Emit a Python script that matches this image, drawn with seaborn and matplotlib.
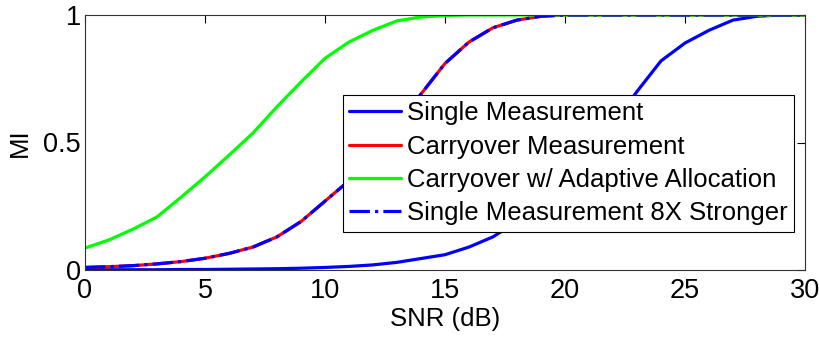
import numpy as np
import pandas as pd
import matplotlib
matplotlib.use("Agg")
import matplotlib.pyplot as plt
import seaborn as sns

snr = list(range(0, 31))
single = [0.001, 0.001, 0.001, 0.001, 0.002, 0.002, 0.003, 0.004, 0.005, 0.007,
          0.010, 0.014, 0.020, 0.030, 0.045, 0.060, 0.090, 0.130, 0.190, 0.270,
          0.360, 0.460, 0.570, 0.700, 0.820, 0.890, 0.940, 0.980, 0.995, 1.000, 1.000]
carry = [0.010, 0.013, 0.017, 0.024, 0.033, 0.046, 0.065, 0.090, 0.130, 0.190,
         0.270, 0.350, 0.460, 0.580, 0.690, 0.810, 0.894, 0.950, 0.980, 0.995,
         1.000, 1.000, 1.000, 1.000, 1.000, 1.000, 1.000, 1.000, 1.000, 1.000, 1.000]
adaptive = [0.086, 0.118, 0.160, 0.208, 0.285, 0.365, 0.450, 0.537, 0.640, 0.737,
            0.830, 0.894, 0.940, 0.977, 0.992, 0.998, 1.000, 1.000, 1.000, 1.000,
            1.000, 1.000, 1.000, 1.000, 1.000, 1.000, 1.000, 1.000, 1.000, 1.000, 1.000]
stronger = [0.010, 0.013, 0.017, 0.024, 0.033, 0.046, 0.065, 0.090, 0.130, 0.190,
            0.270, 0.350, 0.460, 0.580, 0.690, 0.810, 0.894, 0.950, 0.980, 0.995,
            1.000, 1.000, 1.000, 1.000, 1.000, 1.000, 1.000, 1.000, 1.000, 1.000, 1.000]
labels = ["Single Measurement", "Carryover Measurement",
          "Carryover w/ Adaptive Allocation", "Single Measurement 8X Stronger"]

sns.set_style("white")
plt.rcParams['font.family'] = ['Liberation Sans', 'DejaVu Sans']
plt.rcParams['text.color'] = 'black'
plt.rcParams['axes.labelcolor'] = 'black'

fig = plt.figure(figsize=(8.2, 3.37), dpi=100)
ax = fig.add_axes([85/820, 1 - 270/337, 720/820, 255/337])

series = [(single, labels[0], (0, 0, 1), '-'),
          (carry, labels[1], (1, 0, 0), '-'),
          (adaptive, labels[2], (0, 1, 0), '-'),
          (stronger, labels[3], (0, 0, 1), '-.')]
for vals, lab, col, ls in series:
    df = pd.DataFrame({"SNR": snr, "MI": vals})
    sns.lineplot(data=df, x="SNR", y="MI", ax=ax, color=col, linestyle=ls,
                 linewidth=2.3, label=lab, clip_on=True)

ax.set_xlim(0, 30)
ax.set_ylim(0, 1)
ax.set_xticks([0, 5, 10, 15, 20, 25, 30])
ax.set_yticks([0, 0.5, 1])
ax.set_yticklabels(["0", "0.5", "1"])
ax.tick_params(direction='in', length=6, width=0.8, top=True, right=True,
               labelsize=19.5, colors='black', pad=3)
ax.tick_params(axis='x', pad=6)
for s in ax.spines.values():
    s.set_color('#333333')
    s.set_linewidth(0.8)
ax.set_xlabel("SNR (dB)", fontsize=18.5, labelpad=2, color='black')
ax.set_ylabel("MI", fontsize=18.5, labelpad=8, color='black')

leg = ax.legend(loc='upper left', bbox_to_anchor=((343 - 85) / 720, (270 - 95) / 255),
                fontsize=18.5, frameon=True, fancybox=False, handlelength=2.0,
                handletextpad=0.25, borderpad=0.25, labelspacing=0.36, borderaxespad=0)
leg.get_frame().set_edgecolor('black')
leg.get_frame().set_linewidth(0.8)
leg.get_frame().set_alpha(1)
for t in leg.get_texts():
    t.set_color('black')

fig.savefig("out.png", dpi=100)
